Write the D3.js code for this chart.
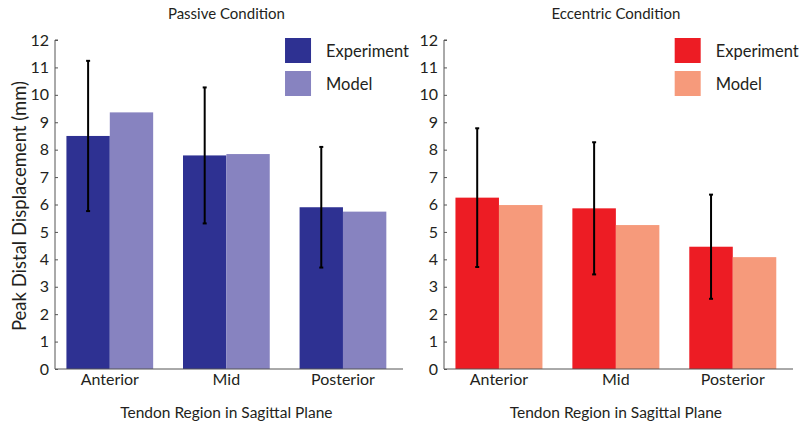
<!DOCTYPE html>
<html>
<head>
<meta charset="utf-8">
<script src="https://cdn.jsdelivr.net/npm/d3@7"></script>
<style>
  body { margin: 0; background: #fff; }
  text { font-family: Lato, "Open Sans", sans-serif; fill: #231f20; }
</style>
</head>
<body>
<svg id="chart" width="800" height="431"></svg>
<script>
// regions along the tendon
let regions = ["Anterior", "Mid", "Posterior"];
let series = ["Experiment", "Model"];
let yTicks = [0, 1, 2, 3, 4, 5, 6, 7, 8, 9, 10, 11, 12];

// passive condition
let passiveExp = [8.5, 7.79, 5.9];
let passiveExpErr = [2.74, 2.48, 2.2];
let passiveModel = [9.36, 7.84, 5.74];

// eccentric condition
let eccentricExp = [6.25, 5.86, 4.46];
let eccentricExpErr = [2.53, 2.41, 1.9];
let eccentricModel = [5.98, 5.25, 4.08];

let panels = [
    {title: "Passive Condition", exp: passiveExp, err: passiveExpErr, model: passiveModel,
     colors: ["#2e3192", "#8783c0"], x0: 55, x1: 403},
    {title: "Eccentric Condition", exp: eccentricExp, err: eccentricExpErr, model: eccentricModel,
     colors: ["#ed1c24", "#f69a7b"], x0: 444, x1: 793}
];

let svg = d3.select("#chart");
let y = d3.scaleLinear().domain([0, 12]).range([369, 40]);
let barW = 0.372;

panels.forEach(function (p) {
    let x = d3.scaleLinear().domain([0.53, 3.515]).range([p.x0, p.x1]);
    let g = svg.append("g");

    // bars
    let rows = regions.map(function (r, i) {
        return {i: i + 1, exp: p.exp[i], err: p.err[i], model: p.model[i]};
    });
    g.selectAll("rect.exp").data(rows).enter().append("rect")
        .attr("x", d => x(d.i - barW))
        .attr("width", d => x(d.i) - x(d.i - barW))
        .attr("y", d => y(d.exp))
        .attr("height", d => y(0) - y(d.exp))
        .attr("fill", p.colors[0]);
    g.selectAll("rect.model").data(rows).enter().append("rect")
        .attr("x", d => x(d.i))
        .attr("width", d => x(d.i + barW) - x(d.i))
        .attr("y", d => y(d.model))
        .attr("height", d => y(0) - y(d.model))
        .attr("fill", p.colors[1]);

    // error bars
    let eb = g.selectAll("g.err").data(rows).enter().append("g");
    eb.append("line")
        .attr("x1", d => x(d.i - barW / 2)).attr("x2", d => x(d.i - barW / 2))
        .attr("y1", d => y(d.exp + d.err)).attr("y2", d => y(d.exp - d.err))
        .attr("stroke", "#000").attr("stroke-width", 2);
    eb.selectAll("line.cap").data(d => [d.exp + d.err, d.exp - d.err].map(v => ({i: d.i, v: v})))
        .enter().append("line")
        .attr("x1", d => x(d.i - barW / 2) - 2).attr("x2", d => x(d.i - barW / 2) + 2)
        .attr("y1", d => y(d.v)).attr("y2", d => y(d.v))
        .attr("stroke", "#000").attr("stroke-width", 2);

    // y axis, ticks pointing inward
    let ya = g.append("g").attr("transform", `translate(${p.x0},0)`)
        .call(d3.axisRight(y).tickValues(yTicks).tickSize(3).tickFormat(d3.format("d")));
    ya.select(".domain").attr("stroke", "#555").attr("d", `M3,${y(12)}H0V${y(0)}`);
    ya.selectAll(".tick line").attr("stroke", "#555");
    ya.selectAll(".tick text").attr("x", -6).attr("text-anchor", "end")
        .attr("font-size", 16).attr("font-family", "Lato, sans-serif").attr("fill", "#231f20");

    // x axis line and labels
    g.append("line").attr("x1", p.x0).attr("x2", p.x1).attr("y1", y(0)).attr("y2", y(0))
        .attr("stroke", "#555").attr("stroke-width", 1);
    g.selectAll("text.reg").data(regions).enter().append("text")
        .attr("x", (d, i) => x(i + 1)).attr("y", 385)
        .attr("text-anchor", "middle").attr("font-size", 16).text(d => d);

    g.append("text").attr("x", x(2)).attr("y", 418).attr("text-anchor", "middle")
        .attr("font-size", 15.5).text("Tendon Region in Sagittal Plane");
    g.append("text").attr("x", x(2)).attr("y", 19).attr("text-anchor", "middle")
        .attr("font-size", 15).text(p.title);

    // legend
    let lx = p.x0 + (p.x1 - p.x0) * 0.661;
    let lg = g.selectAll("g.leg").data(series).enter().append("g")
        .attr("transform", (d, i) => `translate(${lx},${38 + i * 33})`);
    lg.append("rect").attr("width", 26).attr("height", 25).attr("fill", (d, i) => p.colors[i]);
    lg.append("text").attr("x", 41).attr("y", 19).attr("font-size", 16.5).text(d => d);
});

svg.append("text").attr("transform", "translate(26,206) rotate(-90)")
    .attr("text-anchor", "middle").attr("font-size", 18.5).text("Peak Distal Displacement (mm)");
</script>
</body>
</html>
